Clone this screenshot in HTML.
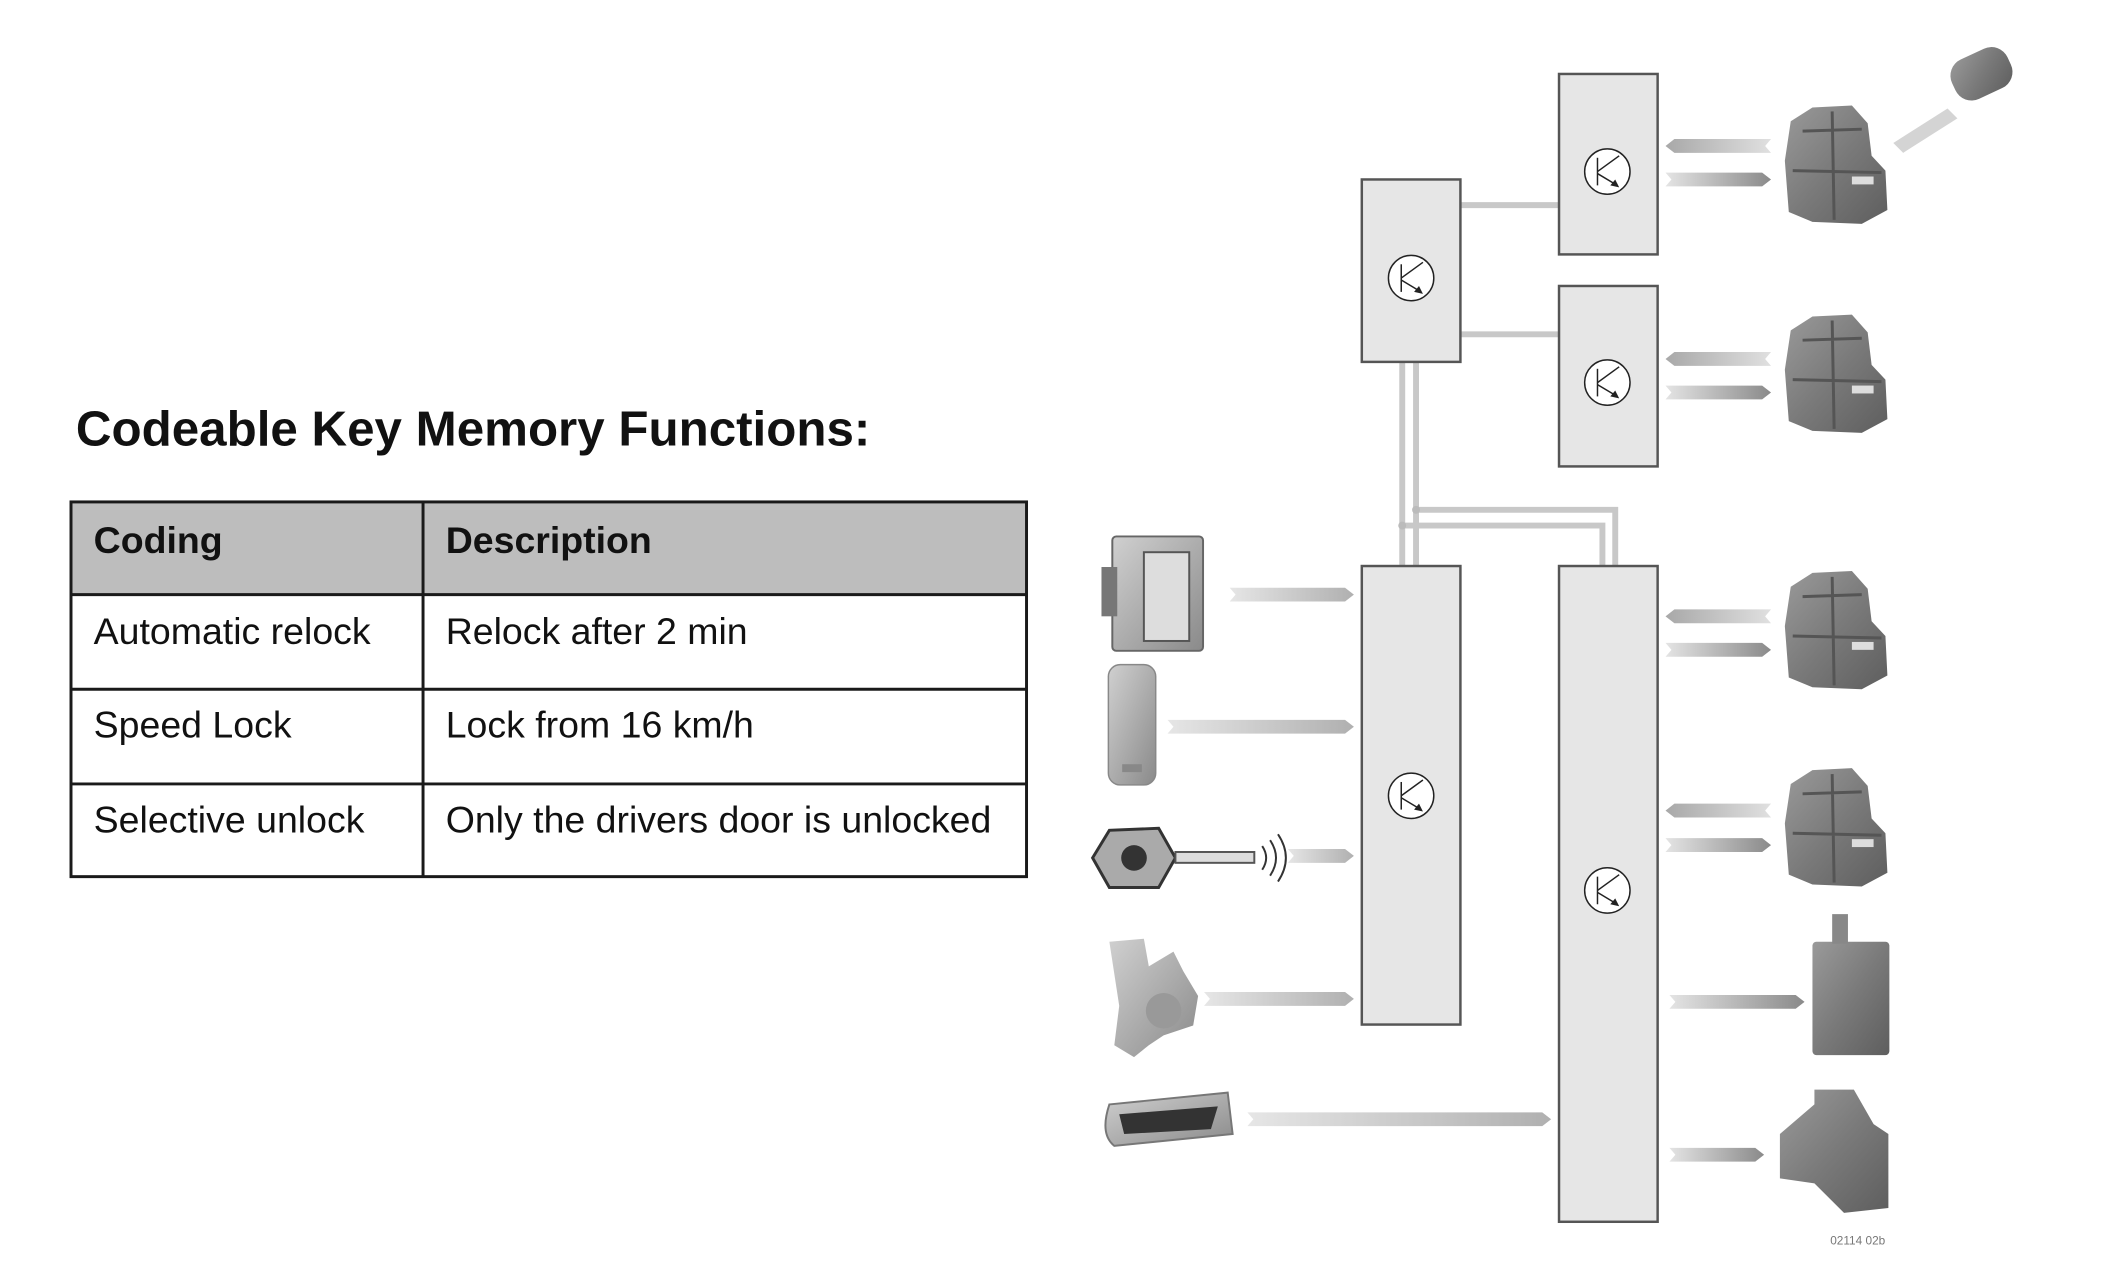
<!DOCTYPE html>
<html><head><meta charset="utf-8"><style>
html,body{margin:0;padding:0;background:#fff;}
body{width:2113px;height:1270px;overflow:hidden;position:relative;font-family:"Liberation Sans",sans-serif;}
</style></head><body>
<svg width="2113" height="1270" viewBox="0 0 2113 1270" xmlns="http://www.w3.org/2000/svg" style="position:absolute;left:0;top:0">
<defs>
<linearGradient id="gr" x1="0" x2="1" y1="0" y2="0"><stop offset="0" stop-color="#e4e4e4"/><stop offset="1" stop-color="#8a8a8a"/></linearGradient>
<linearGradient id="gl" x1="1" x2="0" y1="0" y2="0"><stop offset="0" stop-color="#e0e0e0"/><stop offset="1" stop-color="#a8a8a8"/></linearGradient>
<linearGradient id="gi" x1="0" x2="1" y1="0" y2="0"><stop offset="0" stop-color="#e6e6e6"/><stop offset="1" stop-color="#b0b0b0"/></linearGradient>
<linearGradient id="comp" x1="0" x2="1" y1="0" y2="1"><stop offset="0" stop-color="#9a9a9a"/><stop offset="0.5" stop-color="#7a7a7a"/><stop offset="1" stop-color="#5e5e5e"/></linearGradient>
<linearGradient id="comp2" x1="0" x2="1" y1="0" y2="1"><stop offset="0" stop-color="#d0d0d0"/><stop offset="1" stop-color="#8a8a8a"/></linearGradient>
<g id="tr"><circle r="23" fill="#fff" stroke="#222" stroke-width="1.5"/><line x1="-10" y1="-14" x2="-10" y2="14" stroke="#222" stroke-width="1.5"/><line x1="-10" y1="0" x2="12" y2="-16" stroke="#222" stroke-width="1.5"/><line x1="-10" y1="2" x2="10" y2="14" stroke="#222" stroke-width="1.5"/><polygon points="12,16 3,14 8,8" fill="#222"/></g>
<g id="lock"><path d="M8,20 L30,6 L70,4 L86,22 L90,55 L104,70 L106,110 L80,124 L30,122 L6,112 L2,60 Z" fill="url(#comp)"/><path d="M20,30 L80,28 M10,70 L100,72 M50,10 L52,120" stroke="#555" stroke-width="3" fill="none"/><rect x="70" y="76" width="22" height="8" fill="#ddd"/></g>
</defs>
<g transform="scale(0.9861)">
<!-- Title -->
<text x="77" y="452" font-family="Liberation Sans, sans-serif" font-weight="bold" font-size="50" fill="#111">Codeable Key Memory Functions:</text>

<!-- Table -->
<rect x="72" y="509" width="969" height="94" fill="#bdbdbd"/>
<g stroke="#1a1a1a" stroke-width="3" fill="none">
<rect x="72" y="509" width="969" height="380"/>
<line x1="72" y1="603" x2="1041" y2="603"/><line x1="72" y1="699" x2="1041" y2="699"/><line x1="72" y1="795" x2="1041" y2="795"/>
<line x1="429" y1="509" x2="429" y2="889"/>
</g>
<g font-family="Liberation Sans, sans-serif" font-size="38" fill="#111">
<text x="95" y="561" font-weight="bold">Coding</text><text x="452" y="561" font-weight="bold">Description</text>
<text x="95" y="653">Automatic relock</text><text x="452" y="653">Relock after 2 min</text>
<text x="95" y="748">Speed Lock</text><text x="452" y="748">Lock from 16 km/h</text>
<text x="95" y="844">Selective unlock</text><text x="452" y="844">Only the drivers door is unlocked</text>
</g>

<!-- connectors -->
<g stroke="#c8c8c8" stroke-width="6" fill="none">
<line x1="1481" y1="208" x2="1581" y2="208"/><line x1="1481" y1="339" x2="1581" y2="339"/>
<line x1="1422" y1="367" x2="1422" y2="574"/><line x1="1436" y1="367" x2="1436" y2="574"/>
<polyline points="1436,517 1638,517 1638,574"/><polyline points="1422,533 1625,533 1625,574"/>
</g>
<circle cx="1436" cy="517" r="4" fill="#bbb"/><circle cx="1422" cy="533" r="4" fill="#bbb"/>

<!-- boxes -->
<g fill="#e6e6e6" stroke="#555" stroke-width="2.5">
<rect x="1381" y="182" width="100" height="185"/>
<rect x="1581" y="75" width="100" height="183"/>
<rect x="1581" y="290" width="100" height="183"/>
<rect x="1381" y="574" width="100" height="465"/>
<rect x="1581" y="574" width="100" height="665"/>
</g>
<use href="#tr" x="1431" y="282"/><use href="#tr" x="1630" y="174"/><use href="#tr" x="1630" y="388"/><use href="#tr" x="1431" y="807"/><use href="#tr" x="1630" y="903"/>

<!-- input arrows -->
<g fill="url(#gi)">
<polygon points="1247,596 1364,596 1373,603 1364,610 1247,610 1253,603"/>
<polygon points="1184,730 1364,730 1373,737 1364,744 1184,744 1190,737"/>
<polygon points="1306,861 1364,861 1373,868 1364,875 1306,875 1312,868"/>
<polygon points="1221,1006 1364,1006 1373,1013 1364,1020 1221,1020 1227,1013"/>
<polygon points="1265,1128 1564,1128 1573,1135 1564,1142 1265,1142 1271,1135"/>
</g>
<!-- output arrows -->
<g fill="url(#gl)">
<polygon points="1796,141 1698,141 1689,148 1698,155 1796,155 1790,148"/>
<polygon points="1796,357 1698,357 1689,364 1698,371 1796,371 1790,364"/>
<polygon points="1796,618 1698,618 1689,625 1698,632 1796,632 1790,625"/>
<polygon points="1796,815 1698,815 1689,822 1698,829 1796,829 1790,822"/>
</g>
<g fill="url(#gr)">
<polygon points="1689,175 1787,175 1796,182 1787,189 1689,189 1695,182"/>
<polygon points="1689,391 1787,391 1796,398 1787,405 1689,405 1695,398"/>
<polygon points="1689,652 1787,652 1796,659 1787,666 1689,666 1695,659"/>
<polygon points="1689,850 1787,850 1796,857 1787,864 1689,864 1695,857"/>
<polygon points="1693,1009 1821,1009 1830,1016 1821,1023 1693,1023 1699,1016"/>
<polygon points="1693,1164 1780,1164 1789,1171 1780,1178 1693,1178 1699,1171"/>
</g>
<polygon points="1920,145 1975,110 1985,120 1930,155" fill="#d4d4d4"/>

<!-- components right -->
<use href="#lock" x="1808" y="103"/>
<use href="#lock" x="1808" y="315"/>
<use href="#lock" x="1808" y="575"/>
<use href="#lock" x="1808" y="775"/>
<g transform="translate(1972,68) rotate(-25)"><rect x="0" y="0" width="62" height="44" rx="18" fill="url(#comp)"/></g>
<rect x="1838" y="955" width="78" height="115" rx="4" fill="url(#comp)"/><rect x="1858" y="927" width="16" height="30" fill="#888"/>
<path d="M1805,1150 L1840,1120 L1840,1105 L1880,1105 L1900,1140 L1915,1150 L1915,1225 L1870,1230 L1840,1200 L1805,1195 Z" fill="url(#comp)"/>

<!-- components left -->
<rect x="1128" y="544" width="92" height="116" rx="4" fill="url(#comp2)" stroke="#666" stroke-width="2"/><rect x="1117" y="575" width="16" height="50" fill="#777"/><rect x="1160" y="560" width="46" height="90" fill="#ddd" stroke="#555" stroke-width="2"/>
<rect x="1124" y="674" width="48" height="122" rx="12" fill="url(#comp2)" stroke="#888" stroke-width="1.5"/><rect x="1138" y="775" width="20" height="8" fill="#888"/>
<path d="M1108,870 L1125,842 L1175,840 L1192,870 L1175,900 L1125,900 Z" fill="#aaa" stroke="#333" stroke-width="3"/><circle cx="1150" cy="870" r="13" fill="#333"/><rect x="1192" y="864" width="80" height="11" fill="#ddd" stroke="#555" stroke-width="2"/>
<path d="M1280,858 q8,12 0,24 M1288,852 q12,18 0,36 M1296,846 q16,24 0,48" stroke="#333" stroke-width="2" fill="none"/>
<path d="M1125,955 L1160,952 L1165,980 L1190,965 L1200,985 L1215,1010 L1210,1040 L1180,1050 L1165,1060 L1150,1072 L1130,1060 L1135,1020 Z" fill="url(#comp2)"/><circle cx="1180" cy="1025" r="18" fill="#999"/>
<path d="M1125,1120 L1245,1108 L1250,1150 L1130,1162 Q1115,1150 1125,1120 Z" fill="url(#comp2)" stroke="#777" stroke-width="2"/><path d="M1135,1130 L1235,1122 L1228,1145 L1140,1150 Z" fill="#333"/>

<text x="1856" y="1262" font-family="Liberation Sans, sans-serif" font-size="12" fill="#777">02114 02b</text>
</g>
</svg>
</body></html>
